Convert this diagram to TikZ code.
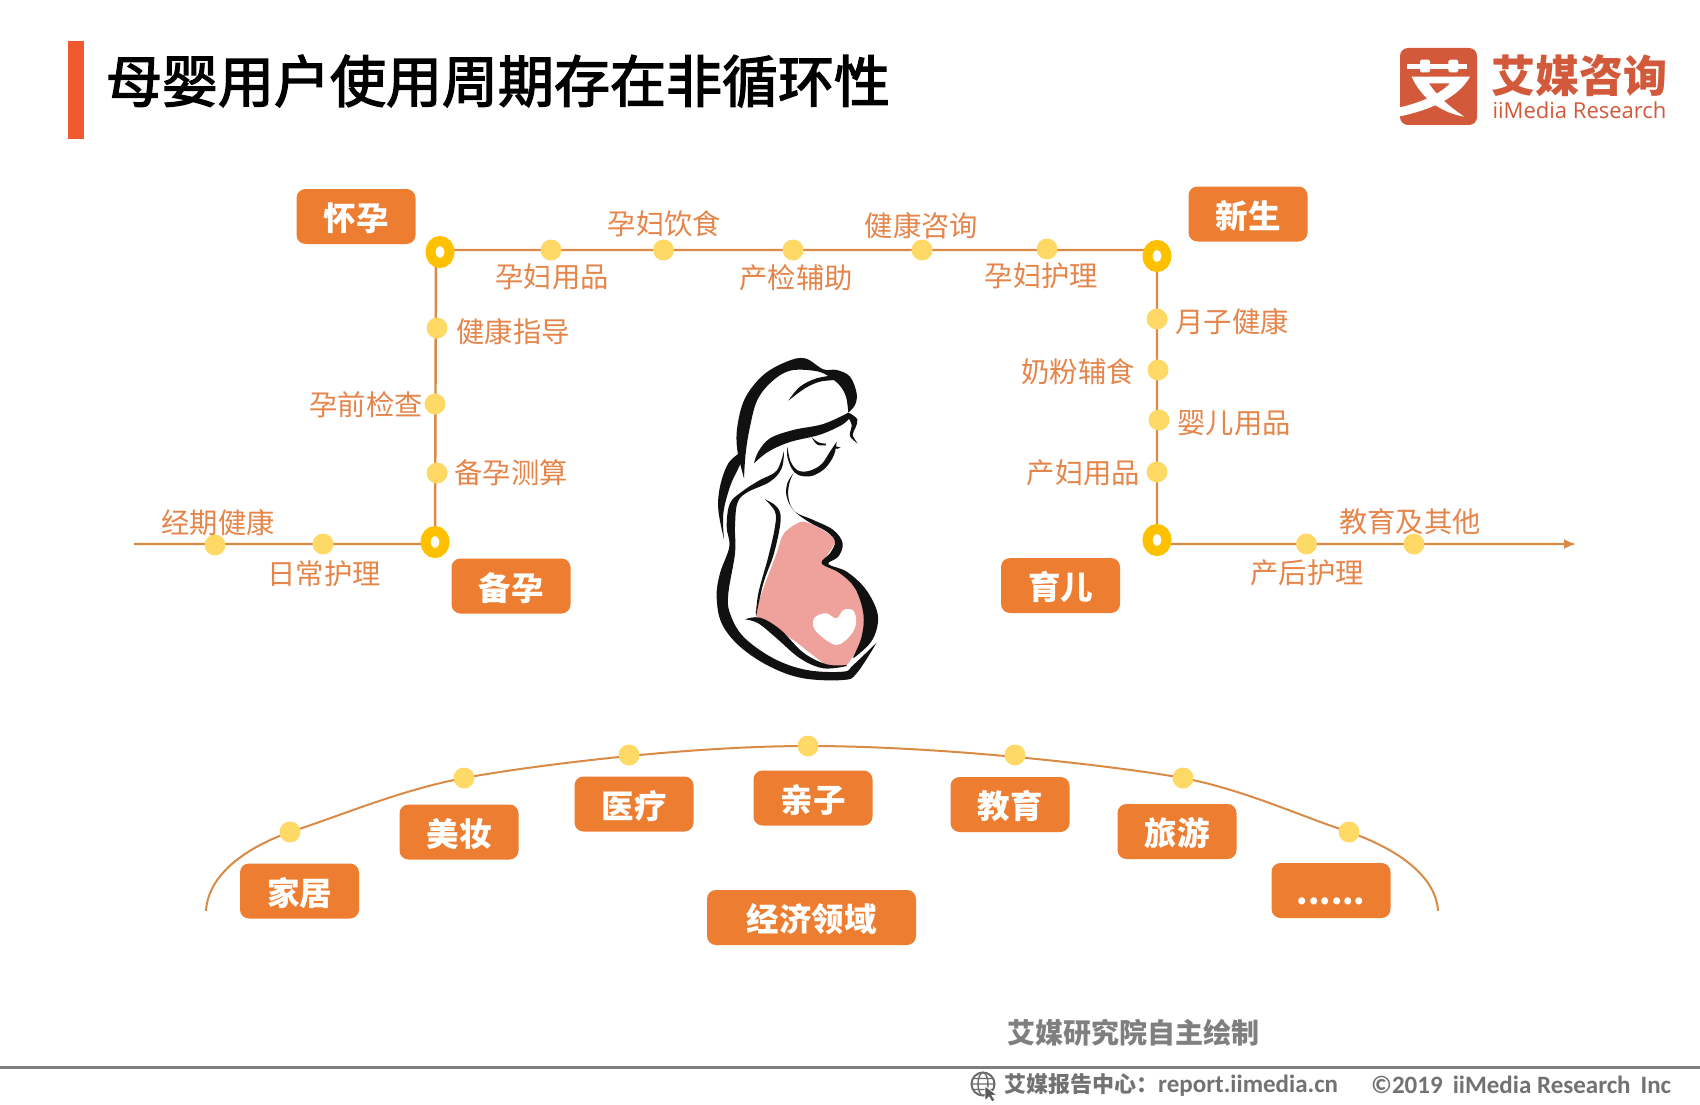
\documentclass[tikz,border=0pt]{standalone}
\usepackage{fontspec}
\setmainfont{Noto Sans CJK SC}
\newfontfamily\logolatin{Open Sans}
\newfontfamily\titlefont[FakeBold=2.6]{Noto Sans CJK SC}
\newfontfamily\footfont{Carlito}
\usetikzlibrary{shapes.geometric,arrows.meta,backgrounds}
\newcommand{\myfs}[1]{\fontsize{#1pt}{#1pt}\selectfont}
\definecolor{boxorange}{HTML}{ED7D31}
\definecolor{lineorange}{HTML}{D98B45}
\definecolor{labelorange}{HTML}{E5854A}
\definecolor{dotyellow}{HTML}{FFD966}
\definecolor{ringyellow}{HTML}{FFC000}
\definecolor{barred}{HTML}{F0592B}
\definecolor{logored}{HTML}{D2593A}
\definecolor{footgray}{HTML}{7F7F7F}
\definecolor{bellypink}{HTML}{EFA19B}
\definecolor{inkblack}{HTML}{111111}
\tikzset{
  stagebox/.style={fill=boxorange,rounded corners=9pt,minimum width=119pt,minimum height=55pt,inner sep=0pt,text=white,font=\myfs{32.5}\bfseries,text height=30pt,text depth=1.4pt},
  widebox/.style={stagebox,minimum width=209pt},
  spot/.style={circle,fill=dotyellow,minimum size=21pt,inner sep=0pt},
  ringmark/.style={ellipse,draw=ringyellow,fill=white,line width=10pt,minimum width=19pt,minimum height=22pt,inner sep=0pt},
  itemlabel/.style={text=labelorange,font=\myfs{28.3},inner sep=0pt},
  routeline/.style={draw=lineorange,line width=2.4pt},
  ink/.style={fill=inkblack,draw=none}
}
\begin{document}
\begin{tikzpicture}[x=1pt,y=-1pt]
\useasboundingbox (0,0) rectangle (1700,1105);

% title
\fill[barred] (68,41) rectangle (83.5,139);
\node[inner sep=0pt,font=\titlefont\myfs{56},text=black] (title) at (498,81) {母婴用户使用周期存在非循环性};

% logo
\begin{scope}[shift={(1395,44)},x=0.3333pt,y=-0.3333pt]
\fill[logored,rounded corners=8pt] (15,12) rectangle (246,243);
\fill[white] (35,60) rectangle (215,75);
\fill[white,rounded corners=1.5pt] (75,47) rectangle (105,85);
\fill[white,rounded corners=1.5pt] (160,47) rectangle (190,85);
\fill[white] (50,98) -- (225,98) .. controls (190,160) and (110,197) .. (15,217) -- (15,190) .. controls (80,175) and (135,150) .. (165,118) -- (100,118) -- cycle;
\fill[white] (50,98) .. controls (75,155) and (130,205) .. (208,218) .. controls (165,190) and (120,150) .. (100,115) -- cycle;
\end{scope}
\node[inner sep=0pt,text=logored,font=\myfs{44}\bfseries] (logocn) at (1579,76) {艾媒咨询};
\node[inner sep=0pt,text=logored,font=\logolatin\myfs{22}] (logoen) at (1579.5,110.5) {iiMedia Research};

% route markers
\node[ringmark] (rHuai) at (440,252) {};
\node[ringmark] (rXin) at (1157,256) {};
\node[ringmark] (rBei) at (435,542) {};
\node[ringmark] (rYu) at (1157,540) {};
\coordinate (startL) at (134,544);
\coordinate (cornerBL) at (435,544);
\coordinate (cornerTL) at (436,250);
\coordinate (cornerTR) at (1157,250);
\coordinate (cornerBR) at (1157,544);
\coordinate (endR) at (1576,544);

\foreach \nm/\px/\py in {a1/215/545,a2/323/544,a3/437/473,a4/435/404,a5/437/328,a6/551/250,a7/663.5/250,a8/793/250,a9/922/250,a10/1047/249,a11/1157/319,a12/1158/370,a13/1159/420,a14/1157/472,a15/1306.5/544,a16/1414/544}
  \node[spot] (\nm) at (\px,\py) {};

\foreach \nm/\px/\py/\tx in {
 l1/218/523/经期健康, l2/324/574/日常护理, l3/511/472.5/备孕测算, l4/366/405/孕前检查,
 l5/513/332/健康指导, l6/552/277/孕妇用品, l7/664.5/224/孕妇饮食, l8/796/277.5/产检辅助,
 l9/921.5/226/健康咨询, l10/1041.5/275.5/孕妇护理, l11/1232/321.5/月子健康, l12/1078/372/奶粉辅食,
 l13/1234/423/婴儿用品, l14/1083.5/473/产妇用品, l15/1410/521.5/教育及其他, l16/1307/572.5/产后护理}
  \node[itemlabel] (\nm) at (\px,\py) {\tx};

\node[stagebox] (huai) at (356,216.5) {怀孕};
\node[stagebox] (xin) at (1248,214) {新生};
\node[stagebox] (bei) at (511,586) {备孕};
\node[stagebox] (yu) at (1060.5,585.5) {育儿};

% economy arc
\coordinate (arcL) at (206,911);
\coordinate (arcR) at (1438,911);
\foreach \nm/\px/\py in {b1/290/832,b2/464/778,b3/629/755,b4/808/746,b5/1015/755,b6/1183/778,b7/1349/832}
  \node[spot] (\nm) at (\px,\py) {};
\node[stagebox] (jiaju) at (299.5,891) {家居};
\node[stagebox] (meizhuang) at (459,832) {美妆};
\node[stagebox] (yiliao) at (634,804) {医疗};
\node[stagebox] (qinzi) at (813,798) {亲子};
\node[stagebox] (jiaoyu) at (1010,804.5) {教育};
\node[stagebox] (lvyou) at (1177,831.5) {旅游};
\node[stagebox] (more) at (1331,890.5) {......};
\node[widebox] (jingji) at (811.5,917.5) {经济领域};

\begin{scope}[on background layer]
\fill[white] (0,0) rectangle (1700,1105);
\draw[routeline,-{Latex[length=12pt,width=10pt]}] (startL) -- (cornerBL) -- (cornerTL) -- (cornerTR) -- (cornerBR) -- (endR);
\draw[draw=lineorange,line width=2pt] (arcL) .. controls (208,875) and (245,848) .. (b1.center)
  .. controls (340,816) and (400,790) .. (b2.center)
  .. controls (520,767.5) and (680,746) .. (b4.center)
  .. controls (950,746) and (1125,767.5) .. (b6.center)
  .. controls (1245,790) and (1300,816) .. (b7.center)
  .. controls (1395,848) and (1436,875) .. (arcR);
\end{scope}

% pregnant woman
\begin{scope}[shift={(680,340)},x=0.3333pt,y=-0.3333pt]
\fill[bellypink] plot[smooth cycle,tension=0.45] coordinates {(312,580) (365,545) (420,565) (465,605) (430,672) (500,710) (545,790) (552,880) (500,975) (440,975) (340,900) (230,830) (245,760) (290,640)};
\fill[white] plot[smooth cycle,tension=0.6] coordinates {(470,915) (425,890) (400,860) (405,832) (438,820) (470,835) (490,810) (520,812) (528,850) (510,888)};
% hair crown
\fill[ink] plot[smooth,tension=0.6] coordinates {(192,415) (172,330) (172,260) (195,175) (250,105) (320,65) (375,55) (430,88) (470,90) (510,110) (530,160) (525,195) (505,218)}
  -- plot[smooth,tension=0.6] coordinates {(505,218) (498,170) (478,135) (440,105) (400,92) (330,92) (275,125) (232,180) (210,260) (197,340) (192,415)} -- cycle;
\fill[ink] plot[smooth,tension=0.6] coordinates {(325,182) (360,140) (410,115) (470,105)} -- plot[smooth,tension=0.6] coordinates {(470,120) (420,125) (375,145) (325,182)} -- cycle;
% fringe and curl
\fill[ink] plot[smooth,tension=0.6] coordinates {(505,218) (430,252) (340,270) (270,295) (235,335) (222,370)} -- plot[smooth,tension=0.6] coordinates {(222,370) (265,335) (330,306) (420,284) (490,252) (515,225)} -- cycle;
\fill[ink] plot[smooth,tension=0.6] coordinates {(510,220) (532,238) (527,262) (518,285) (533,310)} -- plot[smooth,tension=0.6] coordinates {(533,310) (510,288) (515,255) (503,230)} -- cycle;
% eye
\fill[ink] plot[smooth,tension=0.6] coordinates {(395,292) (415,307) (438,311)} -- plot[smooth,tension=0.6] coordinates {(438,316) (412,314) (395,292)} -- cycle;
\fill[ink] (465,318) -- (482,323) -- (470,327) -- cycle;
% face
\fill[ink] plot[smooth,tension=0.6] coordinates {(322,320) (332,365) (355,392) (390,392) (425,372) (450,335) (470,305)} -- plot[smooth,tension=0.6] coordinates {(470,305) (462,345) (435,385) (395,408) (355,405) (335,385) (322,350) (322,320)} -- cycle;
% bust and belly
\fill[ink] plot[smooth,tension=0.6] coordinates {(340,400) (322,430) (320,470) (345,515) (400,540) (460,570) (488,610) (475,650) (445,672) (500,695) (555,745) (590,810) (592,860) (570,910) (520,955)}
  -- plot[smooth,tension=0.6] coordinates {(520,950) (545,890) (550,820) (525,745) (480,700) (425,670) (450,640) (465,605) (440,575) (385,545) (340,510) (325,470) (328,430) (340,400)} -- cycle;
% back lock
\fill[ink] plot[smooth,tension=0.6] coordinates {(185,335) (145,370) (120,440) (115,510) (132,598)} -- plot[smooth,tension=0.6] coordinates {(132,598) (130,520) (150,440) (175,385) (192,350)} -- cycle;
% back and arm
\fill[ink] plot[smooth,tension=0.6] coordinates {(312,332) (290,392) (240,420) (190,452) (150,490) (140,560) (148,620) (120,700) (110,770) (125,850) (180,920) (270,980) (370,1015) (490,1020) (530,1000) (590,908)}
  -- plot[smooth,tension=0.6] coordinates {(590,908) (520,975) (490,995) (380,990) (280,955) (190,890) (150,820) (145,760) (165,640) (165,560) (172,490) (200,458) (270,425) (305,385) (312,332)} -- cycle;
% inner arm
\fill[ink] plot[smooth,tension=0.6] coordinates {(255,478) (290,500) (302,540) (282,640) (250,730) (228,830)} -- plot[smooth,tension=0.6] coordinates {(228,830) (235,760) (265,650) (285,560) (285,515) (255,478)} -- cycle;
% forearm
\fill[ink] plot[smooth,tension=0.6] coordinates {(195,838) (240,833) (300,868) (370,938) (440,973) (500,975)} -- plot[smooth,tension=0.6] coordinates {(500,978) (430,985) (360,955) (290,895) (235,850) (195,838)} -- cycle;
\end{scope}

% footer
\node[inner sep=0pt,text=footgray,font=\myfs{28}\bfseries] (source) at (1133,1033) {艾媒研究院自主绘制};
\coordinate (ruleL) at (0,1067);
\coordinate (ruleR) at (1700,1067);
\draw[draw=footgray,line width=3pt] (ruleL) -- (ruleR);
\begin{scope}[shift={(983,1084)}]
\draw[footgray!85!black,line width=2pt] (0,0) circle (11.5pt);
\draw[footgray!85!black,line width=1.4pt] (0,0) ellipse (5pt and 11.5pt) (-11.5,0) -- (11.5,0) (-10,-5.5) -- (10,-5.5) (-10,5.5) -- (10,5.5);
\fill[footgray!70!black,draw=white,line width=0.8pt] (2,2) -- (2,17) -- (6,13) -- (9,18) -- (12,16) -- (9,11.5) -- (14,11) -- cycle;
\end{scope}
\node[inner sep=0pt,anchor=west,text=footgray!90!black,font=\myfs{22}\bfseries] (footcn) at (1004,1085) {艾媒报告中心：{\footfont\bfseries\myfs{25}report.iimedia.cn}};
\node[inner sep=0pt,anchor=west,text=footgray!90!black,font=\footfont\bfseries\myfs{25}] (footcr) at (1371,1085) {©2019\hspace{10pt}iiMedia Research\hspace{10pt}Inc};
\end{tikzpicture}
\end{document}
